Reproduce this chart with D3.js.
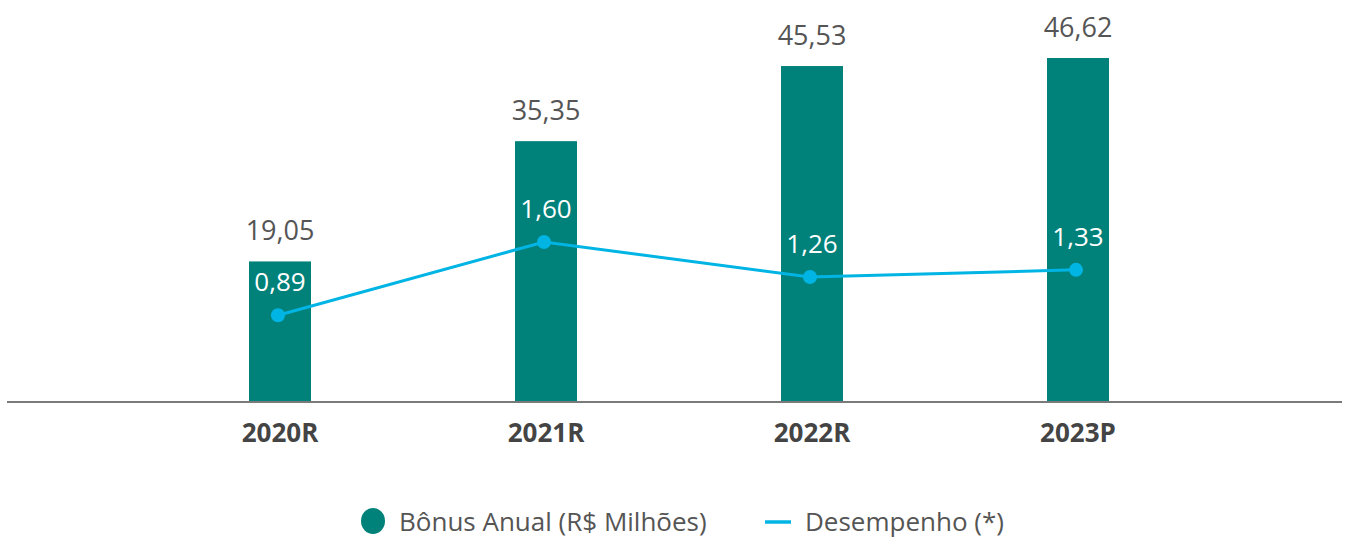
<!DOCTYPE html>
<html><head><meta charset="utf-8">
<script src="https://cdn.jsdelivr.net/npm/d3@7"></script>
<style>body{margin:0;background:#fff;}svg{display:block;font-family:"Open Sans",sans-serif;}</style>
</head><body><svg id="c" width="1359" height="538"></svg>
<script>
const categories = ["2020R","2021R","2022R","2023P"];
const bonus = [19.05, 35.35, 45.53, 46.62];
const desempenho = [0.89, 1.60, 1.26, 1.33];
const bonusLabels = ["19,05","35,35","45,53","46,62"];
const desLabels = ["0,89","1,60","1,26","1,33"];
const legendLabels = ["Bônus Anual (R$ Milhões)","Desempenho (*)"];

const teal = "#00817a", cyan = "#00b4e4", txt = "#555";
const svg = d3.select("#c");
const base = 402;
const x = d3.scaleBand().domain(categories).range([147,1211]).paddingInner(0.767).paddingOuter(0.3835);
const y = d3.scaleLinear().domain([0, 46.62]).range([base, 58]);
const y2 = d3.scaleLinear().domain([0, 1.60]).range([407, 242]);

svg.selectAll("rect.bar").data(bonus).join("rect").attr("class","bar")
  .attr("x",(d,i)=>x(categories[i])).attr("width",x.bandwidth())
  .attr("y",d=>y(d)).attr("height",d=>base-y(d)).attr("fill",teal);

// axis
const ax = svg.append("g").attr("transform",`translate(0,${base})`)
  .call(d3.axisBottom(x).tickSize(0).tickPadding(22));
ax.select(".domain").remove();
ax.append("line").attr("x1",7).attr("x2",1342).attr("stroke","#7a7a7a").attr("stroke-width",2);
ax.selectAll("text").attr("font-family","'Open Sans',sans-serif").attr("font-size",26).attr("font-weight",700).attr("fill","#444");

// bar labels
svg.selectAll("text.bl").data(bonus).join("text").attr("class","bl")
  .attr("x",(d,i)=>x(categories[i])+x.bandwidth()/2).attr("y",d=>y(d)-21)
  .attr("text-anchor","middle").attr("font-size",27).attr("fill",txt).text((d,i)=>bonusLabels[i]);

// line
const cx = (d,i)=>x(categories[i])+x.bandwidth()/2 - 2;
const line = d3.line().x((d,i)=>cx(d,i)).y(d=>y2(d));
svg.append("path").datum(desempenho).attr("d",line).attr("fill","none").attr("stroke",cyan).attr("stroke-width",3);
svg.selectAll("circle.pt").data(desempenho).join("circle").attr("class","pt")
  .attr("cx",cx).attr("cy",d=>y2(d)).attr("r",7).attr("fill",cyan);
svg.selectAll("text.ll").data(desempenho).join("text").attr("class","ll")
  .attr("x",(d,i)=>x(categories[i])+x.bandwidth()/2).attr("y",d=>y2(d)-24)
  .attr("text-anchor","middle").attr("font-size",26).attr("fill","#fff").text((d,i)=>desLabels[i]);

// legend
const lg = svg.append("g");
lg.append("ellipse").attr("cx",373).attr("cy",521).attr("rx",12).attr("ry",13).attr("fill",teal);
lg.append("text").attr("x",399).attr("y",531).attr("font-size",26).attr("fill",txt).text(legendLabels[0]);
lg.append("line").attr("x1",765).attr("x2",791).attr("y1",522).attr("y2",522).attr("stroke",cyan).attr("stroke-width",3.5);
lg.append("text").attr("x",805).attr("y",531).attr("font-size",26).attr("fill",txt).text(legendLabels[1]);
</script></body></html>
